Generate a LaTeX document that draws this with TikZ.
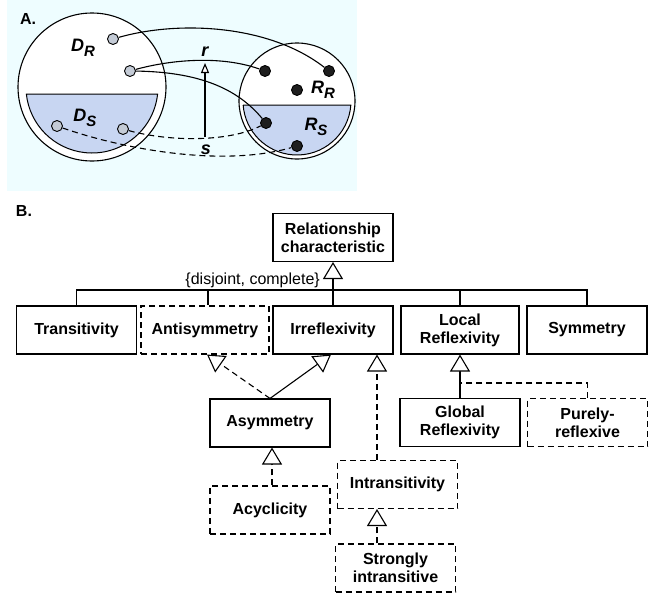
\documentclass[tikz,border=0pt]{standalone}
\usepackage{fontspec}
\setmainfont{Liberation Sans}
\usetikzlibrary{arrows.meta,calc}
\definecolor{bgcyan}{RGB}{238,253,255}
\definecolor{setblue}{RGB}{200,214,242}
\definecolor{ptlight}{RGB}{196,203,214}
\definecolor{ptdark}{RGB}{30,30,30}
\newcommand\lsub[1]{\raisebox{-5pt}{\fontsize{15}{15}\selectfont #1}}
\begin{document}
\begin{tikzpicture}[x=1pt,y=-1pt,
  box/.style={draw,line width=1.1pt,minimum width=120pt,minimum height=48pt,inner sep=0pt,align=center,font=\fontsize{16}{18}\selectfont\bfseries},
  dbox/.style={box,dash pattern=on 6pt off 4pt},
  gen/.style={-{Triangle[length=17pt,width=20pt,fill=white]},line width=1.1pt},
  dgen/.style={gen,dash pattern=on 6pt off 4pt},
  dashln/.style={line width=1.1pt,dash pattern=on 6pt off 4pt},
  lpt/.style={circle,draw,line width=0.9pt,fill=ptlight,minimum size=11pt,inner sep=0pt},
  dpt/.style={circle,draw,line width=0.9pt,fill=ptdark,minimum size=11pt,inner sep=0pt},
  setlbl/.style={inner sep=0pt,font=\fontsize{18}{18}\selectfont\bfseries\itshape},
  panel/.style={inner sep=0pt,font=\fontsize{16}{16}\selectfont\bfseries},
  ]
\useasboundingbox (0,0) rectangle (662,597);
% ---------- Panel A ----------
\fill[bgcyan] (7,0) rectangle (357,191);
\node[panel] (A) at (28,19) {A.};
\draw[line width=1.1pt, fill=white] (92,87) circle[radius=74pt];
\draw[line width=1pt, fill=setblue] (26.4,94) -- (157.6,94) arc[start angle=-6.09, end angle=-173.91, radius=66pt] -- cycle;
\draw[line width=1.1pt, fill=white] (297,101) circle[radius=58pt];
\draw[line width=1pt, fill=setblue] (243.15,105) -- (350.85,105) arc[start angle=-4.25, end angle=-175.75, radius=54pt] -- cycle;

\node[lpt] (p1) at (113,39) {};
\node[lpt] (p2) at (130,71) {};
\node[lpt] (p3) at (57,126) {};
\node[lpt] (p4) at (123,129) {};
\node[dpt] (q1) at (265,71) {};
\node[dpt] (q2) at (329,71) {};
\node[dpt] (q3) at (297,90) {};
\node[dpt] (q4) at (266,123) {};
\node[dpt] (q5) at (297,146) {};

\draw[line width=1.1pt] (p1) .. controls (180,20) and (270,25) .. (q2);
\draw[line width=1.1pt] (p2) .. controls (170,60) and (220,55) .. (q1);
\draw[line width=1.1pt] (p2) .. controls (205,72) and (240,92) .. (q4);
\draw[dashln] (p3) .. controls (120,148) and (220,168) .. (q5);
\draw[dashln] (p4) .. controls (170,142) and (230,142) .. (q4);

\node[setlbl] (r) at (205,52) {r};
\node[setlbl] (s) at (206,150) {s};
\coordinate (sbase) at (205,137);
\coordinate (rtip) at (205,63);
\draw[line width=1.1pt,-{Triangle[length=10pt,width=8pt,fill=white]}] (sbase) -- (rtip);

\node[setlbl] (DR) at (83,48) {D\lsub{R}};
\node[setlbl] (DS) at (85,118) {D\lsub{S}};
\node[setlbl] (RR) at (323,90) {R\lsub{R}};
\node[setlbl] (RS) at (316,127) {R\lsub{S}};

% ---------- Panel B ----------
\node[panel] (B) at (24,211) {B.};
\node[box] (rel) at (333,237.5) {Relationship\\characteristic};
\node[box] (trans) at (76.5,330) {Transitivity};
\node[dbox, minimum width=128pt] (anti) at (205,330) {Antisymmetry};
\node[box] (irr) at (333,330) {Irreflexivity};
\node[box, minimum width=118pt] (loc) at (460,330) {Local\\Reflexivity};
\node[box] (sym) at (587,330) {Symmetry};
\node[box] (asym) at (270,423) {Asymmetry};
\node[box] (glob) at (460,422.5) {Global\\Reflexivity};
\node[dbox] (pure) at (587.5,422.5) {Purely-\\reflexive};
\node[dbox] (intr) at (397.5,484.5) {Intransitivity};
\node[dbox] (acyc) at (270,510) {Acyclicity};
\node[dbox] (strong) at (395.5,568) {Strongly\\intransitive};

\node[anchor=base east, inner sep=0pt, font=\fontsize{16}{18}\selectfont] (dc) at (320,284) {\{disjoint, complete\}};

\draw[gen] (irr.north) -- (rel.south);
\coordinate (bar) at (0,290);
\draw[line width=1.1pt] (trans.north) -- (trans.north |- bar) -- (sym.north |- bar) -- (sym.north);
\coordinate (ax) at (208,0);
\draw[line width=1.1pt] (ax |- bar) -- (ax |- anti.north);
\draw[line width=1.1pt] (loc.north |- bar) -- (loc.north);

\coordinate (at) at (207,0);
\draw[dgen] (asym.north) -- (at |- anti.south);
\coordinate (it) at (331,0);
\draw[gen] (asym.north) -- (it |- irr.south);
\coordinate (ix) at (377,0);
\draw[dgen] (ix |- intr.north) -- (ix |- irr.south);
\draw[gen] (glob.north) -- (loc.south);
\coordinate (pj) at (0,383);
\draw[dashln] (pure.north) -- (pure.north |- pj) -- (glob.north |- pj);
\coordinate (yx) at (272,0);
\draw[dgen] (yx |- acyc.north) -- (yx |- asym.south);
\draw[dgen] (ix |- strong.north) -- (ix |- intr.south);
\end{tikzpicture}
\end{document}
